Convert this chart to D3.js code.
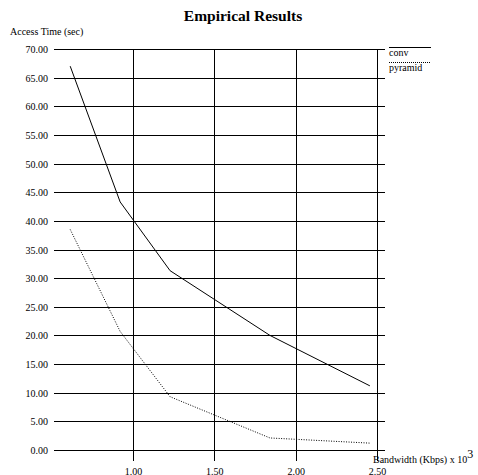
<!DOCTYPE html>
<html><head><meta charset="utf-8">
<script src="https://cdn.jsdelivr.net/npm/d3@7"></script>
<style>body{margin:0;background:#fff}svg{display:block}text{font-family:"Liberation Serif","Times New Roman",serif;fill:#000}</style>
</head><body><svg id="c" width="478" height="475"></svg>
<script>
const bandwidth = [0.614, 0.921, 1.228, 1.842, 2.456];
const conv = [67.0, 43.3, 31.3, 20.0, 11.2];
const pyramid = [38.5, 20.7, 9.3, 2.1, 1.2];
const xTicks = [1.0, 1.5, 2.0, 2.5];
const yTicks = [0, 5, 10, 15, 20, 25, 30, 35, 40, 45, 50, 55, 60, 65, 70];
const seriesNames = ["conv", "pyramid"];

const svg = d3.select("#c");
const x = d3.scaleLinear().domain([0.5144, 2.549]).range([54, 385]);
const y = d3.scaleLinear().domain([0, 70]).range([450, 49]);
const fmt = d3.format(".2f");

svg.append("text").attr("x", 243).attr("y", 21).attr("text-anchor", "middle")
  .attr("font-weight", "bold").attr("font-size", 15.5).text("Empirical Results");
svg.append("text").attr("x", 10).attr("y", 35).attr("font-size", 10).text("Access Time (sec)");

// horizontal grid + y labels
const yAxis = d3.axisLeft(y).tickValues(yTicks).tickFormat(fmt)
  .tickSize(-(x.range()[1] - x.range()[0])).tickPadding(6);
const gy = svg.append("g").attr("transform", `translate(${x.range()[0]},0)`).call(yAxis);
gy.select(".domain").remove();
gy.selectAll("line").attr("stroke", "#000").attr("shape-rendering", "crispEdges");
gy.selectAll("text").attr("font-size", 10).attr("font-family", "Liberation Serif").attr("dy", "0.35em").attr("x", -6);

// vertical grid + x labels
const xAxis = d3.axisBottom(x).tickValues(xTicks).tickFormat(fmt)
  .tickSize(-(461 - 49)).tickPadding(0);
const gx = svg.append("g").attr("transform", "translate(0,461)").call(xAxis);
gx.select(".domain").remove();
gx.selectAll("line").attr("stroke", "#000").attr("shape-rendering", "crispEdges");
gx.selectAll("text").attr("font-size", 10).attr("font-family", "Liberation Serif").attr("y", 13.5).attr("dy", null);

const xl = svg.append("text").attr("x", 373).attr("y", 463).attr("font-size", 10);
xl.append("tspan").text("Bandwidth (Kbps) x 10");
xl.append("tspan").attr("dy", -5).attr("font-size", 12).text("3");

const line = d3.line().x((d, i) => x(bandwidth[i])).y(d => y(d));
svg.append("path").datum(conv).attr("d", line).attr("fill", "none").attr("stroke", "#000").attr("stroke-width", 1);
svg.append("path").datum(pyramid).attr("d", line).attr("fill", "none").attr("stroke", "#000").attr("stroke-width", 1).attr("stroke-dasharray", "1,1.5");

// legend
const lg = svg.append("g");
seriesNames.forEach((n, i) => {
  const ly = 47.5 + i * 15;
  lg.append("line").attr("x1", 389).attr("x2", 431).attr("y1", ly).attr("y2", ly)
    .attr("stroke", "#000").attr("stroke-width", 1).attr("stroke-dasharray", i ? "1,1" : null);
  lg.append("text").attr("x", 389).attr("y", ly + 8).attr("font-size", 10).text(n);
});
</script></body></html>
